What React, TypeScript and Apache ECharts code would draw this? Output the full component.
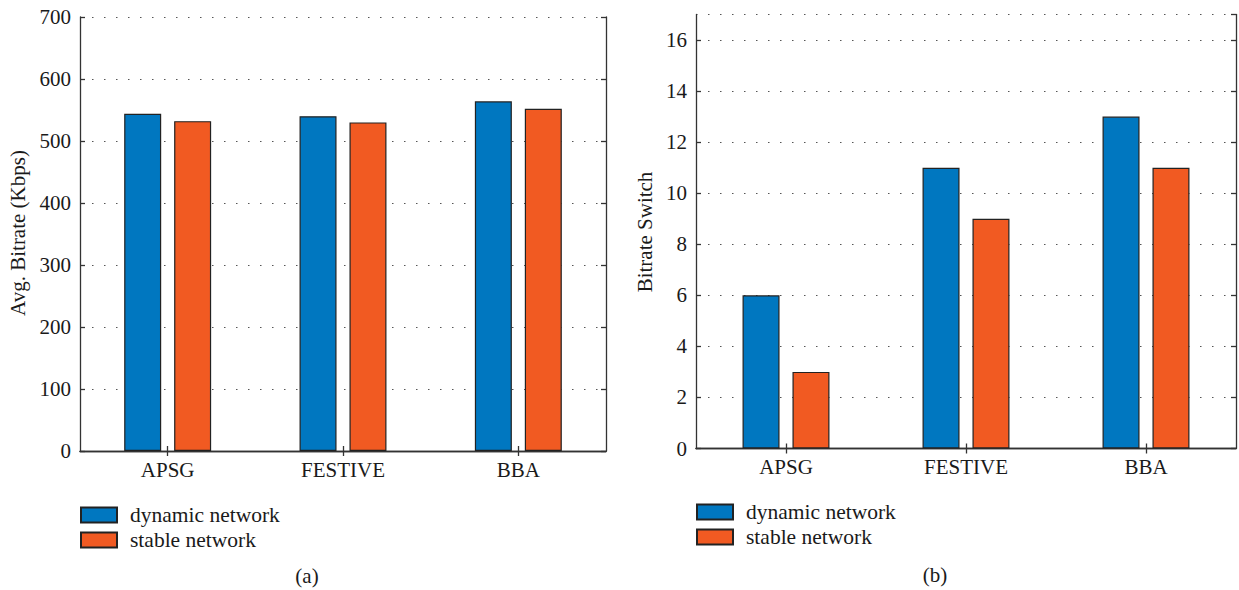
import React, { useEffect, useRef } from "react";
import * as echarts from "echarts";

const categories = ["APSG", "FESTIVE", "BBA"];
const seriesNames = ["dynamic network", "stable network"];
const bitrateDynamic = [544, 540, 564];
const bitrateStable = [532, 530, 552];
const switchDynamic = [6, 11, 13];
const switchStable = [3, 9, 11];

const FONT = "'Liberation Serif', 'DejaVu Serif', serif";
const BLUE = "#0077c0";
const ORANGE = "#f15a22";
const AXIS = "#333333";
const TEXT = "#1a1a1a";

export default function App() {
  const ref = useRef<HTMLDivElement>(null);
  useEffect(() => {
    document.body.style.margin = "0";
    const chart = echarts.init(ref.current!, null, { renderer: "svg" });
    const axisLine = { show: true, lineStyle: { color: AXIS, width: 1.3 } };
    const tick = { show: true, inside: true, length: 5, lineStyle: { color: AXIS, width: 1.3 } };
    const label = { fontFamily: FONT, fontSize: 21, color: TEXT, margin: 9 };
    const split = { show: true, lineStyle: { type: [1.5, 10.5], color: "#555", width: 1 } };
    const xAx = (g: number) => [
      {
        gridIndex: g, type: "category", data: categories, position: "bottom",
        axisLine, axisTick: { ...tick, alignWithLabel: true },
        axisLabel: { ...label, margin: 8 }, splitLine: { show: false },
      },
      {
        gridIndex: g, type: "category", data: categories, position: "top",
        axisLine, axisTick: { ...tick, alignWithLabel: true },
        axisLabel: { show: false }, splitLine: { show: false },
      },
    ];
    const yAx = (g: number, max: number, interval: number) => [
      {
        gridIndex: g, type: "value", min: 0, max, interval, position: "left",
        axisLine, axisTick: tick, axisLabel: { ...label, showMaxLabel: max % interval === 0 },
        splitLine: split,
      },
      {
        gridIndex: g, type: "value", min: 0, max, interval, position: "right",
        axisLine, axisTick: tick, axisLabel: { show: false }, splitLine: { show: false },
      },
    ];
    const bar = (name: string, data: number[], color: string, axis: number) => ({
      type: "bar", name, data, xAxisIndex: axis, yAxisIndex: axis,
      barWidth: 37, barGap: "35%",
      itemStyle: { color, borderColor: "#222", borderWidth: 1.2 },
    });
    const legend = (left: number, top: number) => ({
      left, top, padding: 0, orient: "vertical", itemWidth: 36, itemHeight: 15, itemGap: 3,
      icon: "rect", data: seriesNames,
      textStyle: { fontFamily: FONT, fontSize: 21.5, color: TEXT, padding: [0, 0, 0, 8] },
    });
    chart.setOption({
      animation: false,
      grid: [
        { left: 80, top: 17, width: 526, height: 434 },
        { left: 696, top: 14.5, width: 540, height: 434 },
      ],
      xAxis: [...xAx(0), ...xAx(1)],
      yAxis: [...yAx(0, 700, 100), ...yAx(1, 17, 2)],
      legend: [legend(80, 504), legend(696, 501)],
      series: [
        bar(seriesNames[0], bitrateDynamic, BLUE, 0),
        bar(seriesNames[1], bitrateStable, ORANGE, 0),
        bar(seriesNames[0], switchDynamic, BLUE, 2),
        bar(seriesNames[1], switchStable, ORANGE, 2),
      ],
      graphic: [
        { type: "text", x: 18, y: 233, rotation: Math.PI / 2,
          style: { text: "Avg. Bitrate (Kbps)", font: `21px ${FONT}`, fill: TEXT, align: "center", verticalAlign: "middle" } },
        { type: "text", x: 645, y: 232, rotation: Math.PI / 2,
          style: { text: "Bitrate Switch", font: `21px ${FONT}`, fill: TEXT, align: "center", verticalAlign: "middle" } },
        { type: "text", x: 307, y: 576,
          style: { text: "(a)", font: `21px ${FONT}`, fill: TEXT, align: "center", verticalAlign: "middle" } },
        { type: "text", x: 935, y: 575,
          style: { text: "(b)", font: `21px ${FONT}`, fill: TEXT, align: "center", verticalAlign: "middle" } },
      ],
    });
    return () => chart.dispose();
  }, []);
  return <div ref={ref} style={{ width: 1239, height: 590 }} />;
}
